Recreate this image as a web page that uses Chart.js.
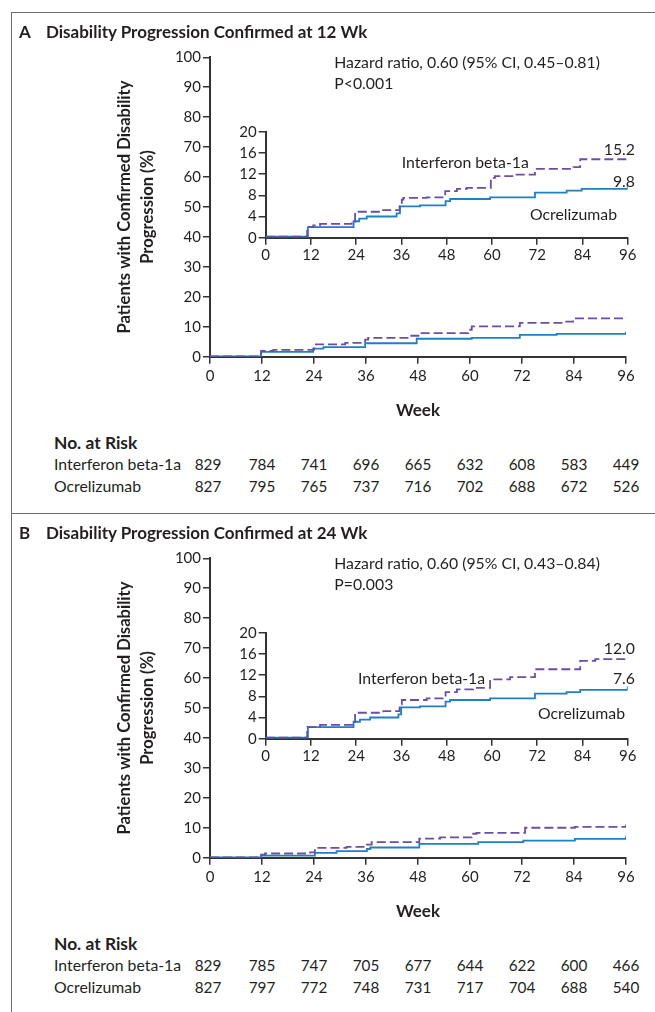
<!DOCTYPE html>
<html>
<head>
<meta charset="utf-8">
<script src="https://cdn.jsdelivr.net/npm/chart.js@4/dist/chart.umd.min.js"></script>
<style>
  body { margin: 0; background: #fff; width: 655px; height: 1012px; position: relative; overflow: hidden;
         font-family: Lato, "Open Sans", sans-serif; color: #231f20; }
  .panel { position: absolute; left: 0; width: 655px; height: 500px; }
  .frame { position: absolute; left: 11px; width: 660px; height: 500px;
           border-left: 1.5px solid #6d6d6d; border-top: 1.5px solid #6d6d6d; }
  .t { position: absolute; white-space: nowrap; line-height: 20px; }
  .title { font-weight: bold; font-size: 17px; }
  .reg { font-size: 15.8px; }
  .num { font-size: 15.3px; }
  .bold { font-weight: bold; font-size: 17.4px; }
  canvas { position: absolute; }
</style>
</head>
<body>
<script>
// Semanas (x) tick labels
const weekTicks = [0, 12, 24, 36, 48, 60, 72, 84, 96];

// Painel A - gráfico principal
const mainA_ifnWeeks = [0, 11.8, 14.6, 24, 31.2, 35.8, 36.5, 46.2, 48.5, 59.6, 60.4, 71.5, 81.9, 83.8, 96];
const mainA_ifnPct   = [0.1, 1.9, 2.3, 4.1, 4.6, 5.7, 6.3, 7.0, 7.9, 9.0, 10.1, 11.3, 11.7, 12.8, 13.2];
const mainA_ocrWeeks = [0, 11.8, 23.8, 26.2, 35.8, 47.7, 60.4, 71.5, 80, 96];
const mainA_ocrPct   = [0.1, 1.6, 2.7, 3.2, 4.5, 6.0, 6.3, 7.3, 7.6, 8.3];

// Painel A - detalhe (inset)
const insetA_ifnWeeks = [0, 11, 12.6, 14.4, 22.8, 23.7, 30.8, 35.5, 36.1, 36.5, 42.7, 47.6, 50.7, 53.3, 59.7, 60.8, 65.7, 71.4, 81.6, 83.4, 96];
const insetA_ifnPct   = [0.2, 2.0, 2.3, 2.6, 3.0, 4.9, 5.2, 6.2, 7.2, 7.5, 7.6, 8.8, 9.2, 9.4, 11.3, 11.6, 11.9, 13.0, 13.3, 14.8, 15.2];
const insetA_ocrWeeks = [0, 11.2, 23.3, 24.8, 26.8, 34.7, 35.6, 40.9, 47.7, 48.9, 59.5, 71.4, 79.8, 83.8, 96];
const insetA_ocrPct   = [0.2, 2.0, 3.1, 3.6, 4.0, 4.6, 5.9, 6.1, 6.9, 7.3, 7.6, 8.5, 8.9, 9.2, 10.1];

// Painel B - gráfico principal
const mainB_ifnWeeks = [0, 11.8, 12.7, 23.1, 24.2, 25, 31.5, 36.2, 37.3, 48.3, 53.1, 60.4, 61.5, 72.7, 84.2, 96];
const mainB_ifnPct   = [0.1, 1.0, 1.4, 1.8, 2.9, 3.3, 3.6, 4.4, 5.2, 6.4, 6.8, 8.0, 8.3, 10.0, 10.3, 11.1];
const mainB_ocrWeeks = [0, 11.8, 24.2, 29.2, 36.2, 37, 48.3, 61.9, 72.3, 84.2, 96];
const mainB_ocrPct   = [0.1, 0.7, 1.6, 2.2, 2.9, 3.4, 4.6, 5.2, 5.7, 6.3, 7.2];

// Painel B - detalhe (inset)
const insetB_ifnWeeks = [0, 11, 14.4, 23.7, 31.2, 35.5, 36.1, 42.7, 47.7, 50.7, 55, 59.5, 64.8, 71.4, 83.4, 87.4, 96];
const insetB_ifnPct   = [0.2, 2.2, 2.6, 4.9, 5.2, 6.5, 7.3, 7.6, 8.8, 9.3, 9.6, 11.2, 11.6, 13.1, 14.7, 15.0, 15.3];
const insetB_ocrWeeks = [0, 11.2, 23.3, 25, 27.7, 35.2, 35.9, 40.9, 47.7, 48.9, 59.5, 71.4, 79.8, 83.4, 96];
const insetB_ocrPct   = [0.2, 2.2, 3.2, 3.6, 4.0, 4.6, 5.9, 6.1, 7.0, 7.3, 7.6, 8.5, 8.8, 9.2, 9.9];

// Número em risco
const riskA_ifn = [829, 784, 741, 696, 665, 632, 608, 583, 449];
const riskA_ocr = [827, 795, 765, 737, 716, 702, 688, 672, 526];
const riskB_ifn = [829, 785, 747, 705, 677, 644, 622, 600, 466];
const riskB_ocr = [827, 797, 772, 748, 731, 717, 704, 688, 540];

const PURPLE = '#6a4ea3';
const BLUE = '#1f80c4';
const AXIS = '#333333';
const TEXT = '#231f20';
const FONT = 'Lato, "Open Sans", sans-serif';
const TICK_SIZE = 15;

function toPoints(weeks, pct) {
  return weeks.map((w, i) => ({ x: w, y: pct[i] }));
}

function addText(parent, text, x, cy, cls, alignRight) {
  const d = document.createElement('div');
  d.className = 't ' + cls;
  d.textContent = text;
  d.style.top = (cy - 10) + 'px';
  if (alignRight) {
    d.style.right = (655 - x) + 'px';
  } else {
    d.style.left = x + 'px';
  }
  parent.appendChild(d);
  return d;
}

function addCenteredText(parent, text, cx, cy, cls) {
  const d = addText(parent, text, cx, cy, cls);
  d.style.transform = 'translateX(-50%)';
  return d;
}

function datasets(ifnW, ifnP, ocrW, ocrP) {
  return [
    { data: toPoints(ifnW, ifnP), borderColor: PURPLE, borderWidth: 1.8, borderDash: [9, 4],
      stepped: 'before', pointRadius: 0, fill: false },
    { data: toPoints(ocrW, ocrP), borderColor: BLUE, borderWidth: 1.8,
      stepped: 'before', pointRadius: 0, fill: false }
  ];
}

function makeCanvas(parent, left, top, w, h) {
  const c = document.createElement('canvas');
  c.width = w; c.height = h;
  c.style.left = left + 'px'; c.style.top = top + 'px';
  c.style.width = w + 'px'; c.style.height = h + 'px';
  parent.appendChild(c);
  return c;
}

function criarPrincipal(parent, sets) {
  const c = makeCanvas(parent, 0, 0, 655, 430);
  return new Chart(c.getContext('2d'), {
    type: 'line',
    data: { datasets: sets },
    options: {
      responsive: false, animation: false, events: [],
      layout: { padding: { left: 113.5, top: 57.3, right: 29, bottom: 0 } },
      plugins: { legend: { display: false }, tooltip: { enabled: false } },
      scales: {
        x: {
          type: 'linear', min: 0, max: 96,
          afterBuildTicks: s => { s.ticks = weekTicks.map(v => ({ value: v })); },
          afterFit: s => { s.height = 73.3; },
          ticks: { font: { family: FONT, size: TICK_SIZE }, color: TEXT, padding: 3, maxRotation: 0 },
          grid: { drawOnChartArea: false, tickLength: 7, color: AXIS, lineWidth: 1.5 },
          border: { color: AXIS, width: 2 },
          title: { display: true, text: 'Week', color: TEXT,
                   font: { family: FONT, size: 17, weight: 'bold', lineHeight: '20px' },
                   padding: { top: 0, bottom: 9.3 } }
        },
        y: {
          min: 0, max: 100,
          ticks: { stepSize: 10, font: { family: FONT, size: TICK_SIZE }, color: TEXT, padding: 2 },
          afterFit: s => { s.width = 96.5; },
          grid: { drawOnChartArea: false, tickLength: 7, color: AXIS, lineWidth: 1.5 },
          border: { color: AXIS, width: 2 },
          title: { display: true, text: ['Patients with Confirmed Disability', 'Progression (%)'], color: TEXT,
                   font: { family: FONT, size: 16.6, weight: 'bold', lineHeight: '23px' }, padding: 0 }
        }
      }
    }
  });
}

function criarInset(parent, sets) {
  const c = makeCanvas(parent, 200, 110, 455, 170);
  return new Chart(c.getContext('2d'), {
    type: 'line',
    data: { datasets: sets },
    options: {
      responsive: false, animation: false, events: [],
      layout: { padding: { left: 0, top: 21.7, right: 27.3, bottom: 0 } },
      plugins: { legend: { display: false }, tooltip: { enabled: false } },
      scales: {
        x: {
          type: 'linear', min: 0, max: 96,
          afterBuildTicks: s => { s.ticks = weekTicks.map(v => ({ value: v })); },
          afterFit: s => { s.height = 42.3; },
          ticks: { font: { family: FONT, size: TICK_SIZE }, color: TEXT, padding: 1.5, maxRotation: 0 },
          grid: { drawOnChartArea: false, tickLength: 7, color: AXIS, lineWidth: 1.5 },
          border: { color: AXIS, width: 2 }
        },
        y: {
          min: 0, max: 20,
          ticks: { stepSize: 4, font: { family: FONT, size: TICK_SIZE }, color: TEXT, padding: 2 },
          afterFit: s => { s.width = 65.7; },
          grid: { drawOnChartArea: false, tickLength: 7, color: AXIS, lineWidth: 1.5 },
          border: { color: AXIS, width: 2 }
        }
      }
    }
  });
}

function criarPainel(top, cfg) {
  const p = document.createElement('div');
  p.className = 'panel';
  p.style.top = top + 'px';
  document.body.appendChild(p);

  const frame = document.createElement('div');
  frame.className = 'frame';
  frame.style.top = '12px';
  p.appendChild(frame);

  const main = criarPrincipal(p, datasets(cfg.mainIfnW, cfg.mainIfnP, cfg.mainOcrW, cfg.mainOcrP));
  criarInset(p, datasets(cfg.insIfnW, cfg.insIfnP, cfg.insOcrW, cfg.insOcrP));

  // Título do painel
  addText(p, cfg.letter, 19, 31.7, 'title');
  addText(p, cfg.title, 46, 31.7, 'title');

  // Hazard ratio
  addText(p, cfg.hr, 334.3, 61.7, 'reg');
  addText(p, cfg.pval, 334.3, 82.7, 'reg');

  // Rótulos do inset
  cfg.labels.forEach(l => addText(p, l.text, l.x, l.y, 'reg', l.right));

  // Tabela de número em risco
  addText(p, 'No. at Risk', 54, 442.7, 'bold');
  addText(p, 'Interferon beta-1a', 54, 464.3, 'reg');
  addText(p, 'Ocrelizumab', 54, 485.5, 'reg');
  const xs = main.scales.x;
  weekTicks.forEach((w, i) => {
    const px = xs.getPixelForValue(w);
    addCenteredText(p, String(cfg.riskIfn[i]), px - (i === 0 ? 2 : 0), 464.3, 'num');
    addCenteredText(p, String(cfg.riskOcr[i]), px - (i === 0 ? 2 : 0), 485.5, 'num');
  });
}

criarPainel(0, {
  letter: 'A', title: 'Disability Progression Confirmed at 12 Wk',
  hr: 'Hazard ratio, 0.60 (95% CI, 0.45\u20130.81)', pval: 'P<0.001',
  mainIfnW: mainA_ifnWeeks, mainIfnP: mainA_ifnPct, mainOcrW: mainA_ocrWeeks, mainOcrP: mainA_ocrPct,
  insIfnW: insetA_ifnWeeks, insIfnP: insetA_ifnPct, insOcrW: insetA_ocrWeeks, insOcrP: insetA_ocrPct,
  labels: [
    { text: 'Interferon beta-1a', x: 401.7, y: 161.7 },
    { text: '15.2', x: 635, y: 149, right: true },
    { text: '9.8', x: 635, y: 181, right: true },
    { text: 'Ocrelizumab', x: 530, y: 214.3 }
  ],
  riskIfn: riskA_ifn, riskOcr: riskA_ocr
});

criarPainel(501, {
  letter: 'B', title: 'Disability Progression Confirmed at 24 Wk',
  hr: 'Hazard ratio, 0.60 (95% CI, 0.43\u20130.84)', pval: 'P=0.003',
  mainIfnW: mainB_ifnWeeks, mainIfnP: mainB_ifnPct, mainOcrW: mainB_ocrWeeks, mainOcrP: mainB_ocrPct,
  insIfnW: insetB_ifnWeeks, insIfnP: insetB_ifnPct, insOcrW: insetB_ocrWeeks, insOcrP: insetB_ocrPct,
  labels: [
    { text: 'Interferon beta-1a', x: 358, y: 177.3 },
    { text: '12.0', x: 635, y: 147.3, right: true },
    { text: '7.6', x: 635, y: 177.3, right: true },
    { text: 'Ocrelizumab', x: 538, y: 211.7 }
  ],
  riskIfn: riskB_ifn, riskOcr: riskB_ocr
});
</script>
</body>
</html>
